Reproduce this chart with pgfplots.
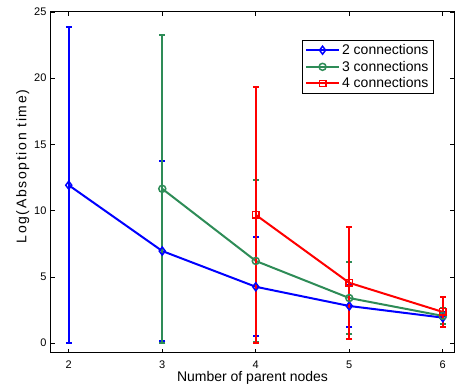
\documentclass[border=0pt]{standalone}
\usepackage{pgfplots}
\pgfplotsset{compat=1.18}
\usepackage{fontspec}
\setmainfont{Liberation Sans}
\newfontfamily\ylfont[LetterSpace=12]{Liberation Sans}
\definecolor{mblue}{rgb}{0,0,1}
\definecolor{mgreen}{rgb}{0.18,0.55,0.34}
\definecolor{mred}{rgb}{1,0,0}
\pgfplotsset{
 mplot/.style={line width=2pt, mark options={solid, line width=1.5pt},
  legend image code/.code={\draw[mark repeat=2,mark phase=2] plot coordinates {(0pt,0pt) (16.5pt,0pt) (33pt,0pt)};},
  error bars/.cd, y dir=both, y explicit,
  error bar style={line width=2pt},
  error mark options={rotate=90, line width=2pt, mark size=3pt}},
}
\begin{document}
\begin{tikzpicture}[x=1pt,y=1pt]
\begin{axis}[at={(0,0)},anchor=south west, scale only axis, width=403pt, height=341pt,
 xmin=1.81, xmax=6.12, ymin=-0.75, ymax=25,
 xtick={2,3,4,5,6}, ytick={0,5,10,15,20,25},
 tick align=inside, tick pos=both,
 major tick length=4pt,
 tick style={black, line width=0.6pt},
 font=\fontsize{11}{13}\selectfont,
 /pgf/number format/assume math mode=true,
 xticklabel style={yshift=-4.5pt},
 yticklabel style={xshift=-1pt},
 xlabel={Number of parent nodes}, ylabel={Log(Absoption time)},
 xlabel style={font=\fontsize{14}{16}\selectfont, yshift=4pt},
 ylabel style={font=\fontsize{14}{16}\selectfont\ylfont, at={(ticklabel cs:0.547)}, yshift=-2pt},
 axis line style={line width=1pt},
 legend style={at={(0.95,0.918)}, anchor=north east, draw=black, line width=0.8pt,
   font=\fontsize{14}{15}\selectfont, legend cell align=left, row sep=1pt,
   inner xsep=3pt, inner ysep=2pt},
 ]
\addplot[mblue, mark=diamond, mark size=4pt, mplot]
 coordinates {(2,11.92) +- (0,11.95) (3,6.95) +- (0,6.8) (4,4.25) +- (0,3.75) (5,2.8) +- (0,1.6) (6,1.92) +- (0,0.45)};
\addlegendentry{2 connections}
\addplot[mgreen, mark=o, mark size=3.5pt, mplot]
 coordinates {(3,11.65) +- (0,11.65) (4,6.2) +- (0,6.1) (5,3.4) +- (0,2.7) (6,2.05) +- (0,0.6)};
\addlegendentry{3 connections}
\addplot[mred, mark=square, mark size=3.2pt, mplot]
 coordinates {(4,9.68) +- (0,9.65) (5,4.55) +- (0,4.25) (6,2.35) +- (0,1.15)};
\addlegendentry{4 connections}
\end{axis}
\pgfresetboundingbox
\path (-51,-37) rectangle (404,353);
\end{tikzpicture}
\end{document}
